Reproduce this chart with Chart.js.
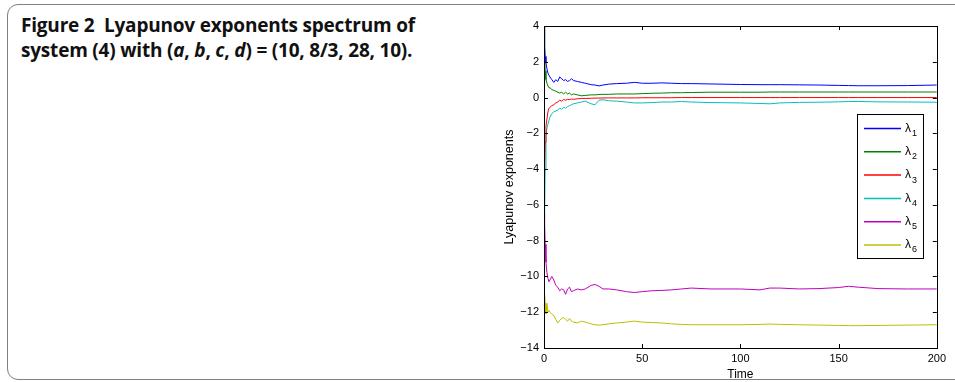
<!DOCTYPE html>
<html><head><meta charset="utf-8">
<script src="https://cdn.jsdelivr.net/npm/chart.js@4/dist/chart.umd.min.js"></script>
<style>
html,body{margin:0;padding:0;background:#fff;width:955px;height:382px;overflow:hidden;position:relative}
#frame{position:absolute;left:7px;top:4px;width:1000px;height:376px;border:1.5px solid #808080;border-radius:11px;box-sizing:border-box}
#title{position:absolute;left:21px;top:13px;font-family:"Open Sans",sans-serif;font-weight:700;font-size:19px;line-height:25px;color:#111;letter-spacing:-0.2px}
#wrap{position:absolute;left:490px;top:10px;width:460px;height:372px}
</style></head><body>
<div id="frame"></div>
<div id="title">Figure 2&nbsp; Lyapunov exponents spectrum of<br>system (4) with (<i>a</i>, <i>b</i>, <i>c</i>, <i>d</i>) = (10, 8/3, 28, 10).</div>
<div id="wrap"><canvas id="c" width="460" height="372"></canvas></div>
<script>
const time = [0,0.3,0.6,1,1.5,2,2.5,3,4,5,6,7,8,9,10,11,12,13,14,15,17,19,21,24,26,28,30,33,37,42,46,50,55,60,65,70,75,85,100,110,115,120,130,140,150,155,160,170,185,200];
const lambda1 = [4.0,2.9,2.3,1.95,1.6,1.37,1.25,1.15,1.0,0.85,1.0,0.9,1.15,1.05,0.95,1.0,0.9,0.95,1.05,0.95,0.9,0.85,0.8,0.72,0.7,0.65,0.7,0.75,0.78,0.8,0.85,0.8,0.8,0.82,0.8,0.78,0.78,0.76,0.73,0.72,0.72,0.72,0.71,0.7,0.68,0.67,0.66,0.66,0.67,0.7];
const lambda2 = [4.0,2.5,1.5,1.0,0.8,0.65,0.55,0.55,0.45,0.4,0.35,0.3,0.25,0.3,0.2,0.3,0.2,0.25,0.15,0.2,0.15,0.1,0.12,0.15,0.15,0.17,0.18,0.18,0.2,0.2,0.2,0.22,0.24,0.25,0.27,0.27,0.28,0.3,0.3,0.3,0.31,0.31,0.31,0.31,0.31,0.31,0.31,0.31,0.31,0.31];
const lambda3 = [-4.2,-4.0,-2.5,-1.6,-1.2,-0.8,-0.6,-0.55,-0.45,-0.4,-0.3,-0.25,-0.15,-0.2,-0.1,-0.15,-0.1,-0.12,-0.08,-0.1,-0.07,-0.05,-0.05,-0.04,-0.03,-0.03,-0.02,-0.02,-0.02,-0.02,-0.02,-0.01,-0.01,-0.01,-0.01,0,0,0,0,0,0,0,0,0,0,0,0,0,0,0];
const lambda4 = [-6.8,-6.6,-4.0,-2.2,-1.7,-1.5,-1.3,-1.1,-0.9,-0.8,-0.75,-0.7,-0.6,-0.65,-0.55,-0.6,-0.5,-0.45,-0.4,-0.35,-0.3,-0.25,-0.2,-0.35,-0.4,-0.15,-0.12,-0.18,-0.2,-0.25,-0.3,-0.3,-0.28,-0.25,-0.25,-0.22,-0.25,-0.28,-0.3,-0.33,-0.35,-0.3,-0.27,-0.26,-0.24,-0.22,-0.22,-0.24,-0.25,-0.26];
const lambda5 = [-6.5,-7.0,-8.2,-9.2,-9.8,-10.1,-10.3,-10.2,-10.0,-10.2,-10.5,-10.6,-10.8,-10.7,-10.75,-11.0,-10.7,-10.6,-10.85,-10.8,-10.7,-10.75,-10.7,-10.5,-10.45,-10.55,-10.7,-10.7,-10.75,-10.85,-10.9,-10.85,-10.8,-10.78,-10.75,-10.7,-10.65,-10.7,-10.7,-10.75,-10.65,-10.65,-10.7,-10.68,-10.62,-10.55,-10.6,-10.68,-10.7,-10.7];
const lambda6 = [-12.0,-11.0,-11.5,-12.1,-11.5,-12.0,-11.9,-12.0,-12.1,-12.2,-12.4,-12.6,-12.45,-12.35,-12.3,-12.4,-12.5,-12.35,-12.5,-12.55,-12.6,-12.5,-12.55,-12.65,-12.7,-12.72,-12.7,-12.65,-12.6,-12.55,-12.5,-12.55,-12.58,-12.6,-12.65,-12.68,-12.7,-12.7,-12.7,-12.68,-12.66,-12.68,-12.7,-12.72,-12.74,-12.75,-12.75,-12.74,-12.72,-12.7];
const seriesNames = ["1","2","3","4","5","6"];
const seriesColors = ["#0000ff","#008000","#ff0000","#00bfbf","#bf00bf","#bfbf00"];
const xTicks = [0,50,100,150,200];
const yTicks = [4,2,0,-2,-4,-6,-8,-10,-12,-14];

const allSeries = [lambda1,lambda2,lambda3,lambda4,lambda5,lambda6];
const datasets = allSeries.map((vals,i)=>({
  label: "\u03bb" + seriesNames[i],
  data: vals.map((v,j)=>({x:time[j], y:v})),
  borderColor: seriesColors[i],
  borderWidth: 1,
  pointRadius: 0,
  tension: 0,
  fill: false
}));

const FONT = "'Liberation Sans', Arial, sans-serif";

const boxPlugin = {
  id: 'box',
  afterDraw(chart){
    const ctx = chart.ctx, a = chart.chartArea;
    const xs = chart.scales.x, ys = chart.scales.y;
    ctx.save();
    ctx.strokeStyle = '#000'; ctx.lineWidth = 1;
    ctx.strokeRect(Math.round(a.left)+0.5, Math.round(a.top)+0.5, Math.round(a.right-a.left), Math.round(a.bottom-a.top));
    ctx.beginPath();
    xTicks.forEach(t=>{
      const px = Math.round(xs.getPixelForValue(t))+0.5;
      ctx.moveTo(px, a.bottom); ctx.lineTo(px, a.bottom-4);
      ctx.moveTo(px, a.top); ctx.lineTo(px, a.top+4);
    });
    yTicks.forEach(t=>{
      const py = Math.round(ys.getPixelForValue(t))+0.5;
      ctx.moveTo(a.left, py); ctx.lineTo(a.left+4, py);
      ctx.moveTo(a.right, py); ctx.lineTo(a.right-4, py);
    });
    ctx.stroke();
    // legend
    const lx = 857-490, ly = 114-10, lw = 66, lh = 144;
    ctx.fillStyle = '#fff';
    ctx.fillRect(lx, ly, lw, lh);
    ctx.strokeStyle = '#000'; ctx.lineWidth = 1;
    ctx.strokeRect(lx+0.5, ly+0.5, lw, lh);
    seriesNames.forEach((nm,i)=>{
      const y = ly + 14.5 + i*23.3;
      ctx.strokeStyle = seriesColors[i]; ctx.lineWidth = 1.5;
      ctx.beginPath(); ctx.moveTo(lx+7, y); ctx.lineTo(lx+44, y); ctx.stroke();
      ctx.fillStyle = '#000';
      ctx.textBaseline = 'middle'; ctx.textAlign = 'left';
      ctx.font = '12px ' + FONT;
      ctx.fillText('\u03bb', lx+48, y);
      ctx.font = '9px ' + FONT;
      ctx.fillText(nm, lx+55, y+5);
    });
    ctx.restore();
  }
};

new Chart(document.getElementById('c'), {
  type: 'line',
  data: { datasets },
  plugins: [boxPlugin],
  options: {
    responsive: false,
    animation: false,
    layout: { padding: { left: 12, top: 16, right: 11, bottom: 0 } },
    plugins: { legend: { display: false }, tooltip: { enabled: false } },
    scales: {
      x: {
        type: 'linear', min: 0, max: 200,
        afterBuildTicks(s){ s.ticks = xTicks.map(v=>({value:v})); },
        afterFit(s){ s.height = 34; },
        grid: { display: false, drawTicks: false },
        border: { display: false },
        ticks: { color: '#000', font: { family: FONT, size: 11 }, padding: 4, maxRotation: 0 },
        title: { display: true, text: 'Time', color: '#000', font: { family: FONT, size: 12 }, padding: { top: 0, bottom: 0 } }
      },
      y: {
        type: 'linear', min: -14, max: 4,
        afterBuildTicks(s){ s.ticks = yTicks.map(v=>({value:v})); },
        afterFit(s){ s.width = 42; },
        grid: { display: false, drawTicks: false },
        border: { display: false },
        ticks: { color: '#000', font: { family: FONT, size: 11 }, padding: 5,
          callback: v => String(v).replace('-', '\u2212') },
        title: { display: true, text: 'Lyapunov exponents', color: '#000', font: { family: FONT, size: 12.5 }, padding: { top: 0, bottom: 0 } }
      }
    }
  }
});
</script>
</body></html>
